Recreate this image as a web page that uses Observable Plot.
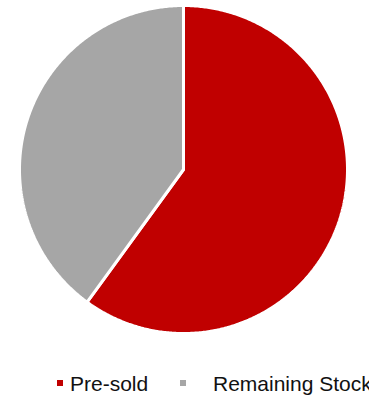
<!DOCTYPE html>
<html>
<head>
<meta charset="utf-8">
<script src="https://cdn.jsdelivr.net/npm/d3@7"></script>
<script src="https://cdn.jsdelivr.net/npm/@observablehq/plot@0.6"></script>
<style>
  html, body { margin: 0; padding: 0; background: #fff; }
  body { width: 369px; height: 396px; position: relative; overflow: hidden; font-family: "Liberation Sans", Arial, sans-serif; }
  #chart svg { display: block; }
  .leg { position: absolute; font-size: 21px; color: #111; white-space: nowrap; line-height: 1; }
  .sw { position: absolute; width: 6px; height: 6px; }
</style>
</head>
<body>
<div id="chart"></div>
<div class="sw" id="sw0" style="left:57px; top:380px;"></div>
<div class="leg" id="lg0" style="left:70px; top:373px;"></div>
<div class="sw" id="sw1" style="left:180px; top:380px;"></div>
<div class="leg" id="lg1" style="left:213px; top:373px;"></div>
<script>
const categories = ["Pre-sold", "Remaining Stock"];
const values = [60, 40];
const colors = ["#C00000", "#A6A6A6"];

const pie = d3.pie().sort(null).value(d => d.value);
const arcs = pie(categories.map((c, i) => ({label: c, value: values[i]})));

const pts = [];
for (const a of arcs) {
  pts.push({label: a.data.label, x: 0, y: 0});
  const n = Math.max(2, Math.ceil((a.endAngle - a.startAngle) / (Math.PI / 360)));
  for (let k = 0; k <= n; k++) {
    const t = a.startAngle + (a.endAngle - a.startAngle) * k / n;
    pts.push({label: a.data.label, x: Math.sin(t), y: Math.cos(t)});
  }
}

const chart = Plot.plot({
  width: 369,
  height: 340,
  marginLeft: 19,
  marginRight: 22,
  marginTop: 5,
  marginBottom: 7,
  x: {domain: [-1, 1], axis: null},
  y: {domain: [-1, 1], axis: null},
  color: {domain: categories, range: colors},
  marks: [
    Plot.line(pts, {x: "x", y: "y", z: "label", fill: "label", stroke: "white", strokeWidth: 3, curve: "linear-closed", strokeLinejoin: "miter"})
  ]
});
document.getElementById("chart").appendChild(chart);

categories.forEach((c, i) => {
  document.getElementById("sw" + i).style.background = colors[i];
  document.getElementById("lg" + i).textContent = c;
});
</script>
</body>
</html>
